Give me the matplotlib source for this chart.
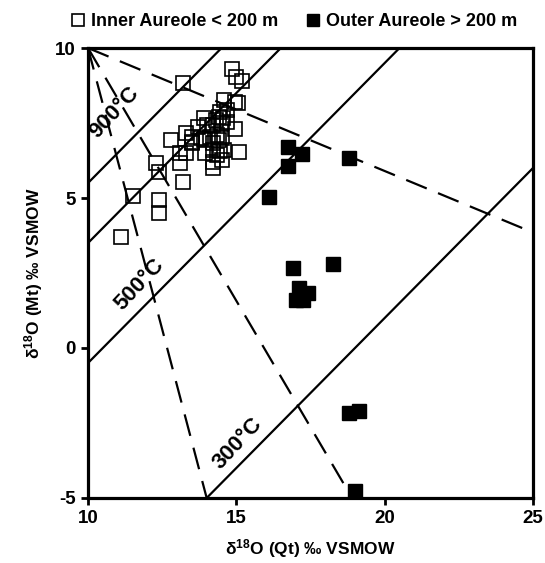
import numpy as np
import matplotlib
matplotlib.use("Agg")
import matplotlib.pyplot as plt
from matplotlib.lines import Line2D

plt.rcParams['font.family'] = ['Liberation Sans', 'DejaVu Sans']
plt.rcParams['font.weight'] = 'bold'
plt.rcParams['mathtext.fontset'] = 'custom'
plt.rcParams['mathtext.rm'] = 'Liberation Sans:bold'
plt.rcParams['mathtext.default'] = 'regular'
plt.rcParams['axes.unicode_minus'] = False

# inner aureole (< 200 m), open squares
inner_qt = [11.1, 11.5, 12.3, 12.4, 12.4, 12.4, 12.8, 13.1, 13.1, 13.3,
            13.2, 13.2, 13.5, 13.3, 13.5, 13.5, 13.7, 13.9, 14.0, 13.8,
            13.9, 14.1, 14.35, 14.5, 14.2, 14.4, 13.95, 14.2, 14.45, 14.35,
            14.6, 14.2, 14.5, 14.2, 15.1, 14.95, 14.6, 14.95, 15.05, 14.7,
            14.45, 14.4, 14.55, 14.5, 14.7, 14.3, 14.2, 14.85, 15.0, 15.2]
inner_mt = [3.7, 5.07, 6.17, 5.87, 4.93, 4.5, 6.93, 6.17, 6.5, 6.5,
            5.53, 8.83, 6.87, 7.17, 7.03, 6.83, 7.37, 7.67, 7.43, 7.0,
            6.93, 7.03, 7.1, 7.0, 6.83, 6.93, 6.5, 6.6, 6.57, 6.43,
            6.6, 6.2, 6.27, 6.0, 6.53, 7.3, 8.27, 8.2, 8.17, 7.93,
            7.87, 7.7, 7.67, 7.5, 7.53, 7.6, 7.43, 9.3, 9.03, 8.9]

# outer aureole (> 200 m), filled squares
outer_qt = [16.75, 17.2, 16.75, 16.1, 18.8, 16.9, 18.25, 17.1, 17.4, 17.0, 17.25, 18.8, 19.15, 19.0]
outer_mt = [6.7, 6.47, 6.07, 5.03, 6.33, 2.67, 2.8, 2.0, 1.83, 1.6, 1.6, -2.17, -2.1, -4.78]

# quartz-magnetite isotherms (delta Qt - delta Mt)
iso_delta = [4.5, 6.5, 10.5, 19.0]
iso_labels = {'900°C': (10.9, 7.85), '500°C': (11.72, 2.1), '300°C': (15.05, -3.2)}

# dashed trajectories from the (10, 10) corner
dash_ends = [(25.0, 3.85), (18.9, -5.0), (14.0, -5.0)]

fig = plt.figure(figsize=(5.45, 5.63), dpi=100)
ax = fig.add_axes([0.1615, 0.1155, 0.8165, 0.7992])

xs = np.array([10.0, 25.0])
for d in iso_delta:
    ax.plot(xs, xs - d, color='black', lw=1.6, solid_capstyle='butt', zorder=2)

for x1, y1 in dash_ends:
    ax.plot([10, x1], [10, y1], color='black', lw=1.6, dashes=(10, 5.5), zorder=2)

for txt, (tx, ty) in iso_labels.items():
    ax.text(tx, ty, txt, fontsize=16, fontweight='bold', rotation=47,
            ha='center', va='center', rotation_mode='anchor', zorder=3)

ax.plot(inner_qt, inner_mt, 's', ms=9.5, mfc='none', mec='black', mew=1.2, zorder=4)
ax.plot(outer_qt, outer_mt, 's', ms=9.5, mfc='black', mec='black', zorder=4)

ax.set_xlim(10, 25)
ax.set_ylim(-5, 10)
ax.set_xticks([10, 15, 20, 25])
ax.set_yticks([-5, 0, 5, 10])
ax.tick_params(direction='out', length=5, width=2, labelsize=13.5, pad=4)
for lab in ax.get_xticklabels() + ax.get_yticklabels():
    lab.set_fontweight('bold')
for sp in ax.spines.values():
    sp.set_linewidth(2.3)

ax.set_xlabel(r'$\delta^{18}$O (Qt) ‰ VSMOW', fontsize=12.5, fontweight='bold', labelpad=7)
ax.set_ylabel(r'$\delta^{18}$O (Mt) ‰ VSMOW', fontsize=12.5, fontweight='bold', labelpad=7)

handles = [Line2D([], [], ls='none', marker='s', ms=8.5, mfc='none', mec='black', mew=1.2),
           Line2D([], [], ls='none', marker='s', ms=8.5, mfc='black', mec='black')]
fig.legend(handles, ['Inner Aureole < 200 m', 'Outer Aureole > 200 m'],
           loc='center', bbox_to_anchor=(0.54, 0.962), ncol=2, frameon=False,
           prop={'size': 13, 'weight': 'bold'}, handlelength=0.7, handletextpad=0.35,
           columnspacing=1.6)

fig.savefig('out.png', dpi=100)
